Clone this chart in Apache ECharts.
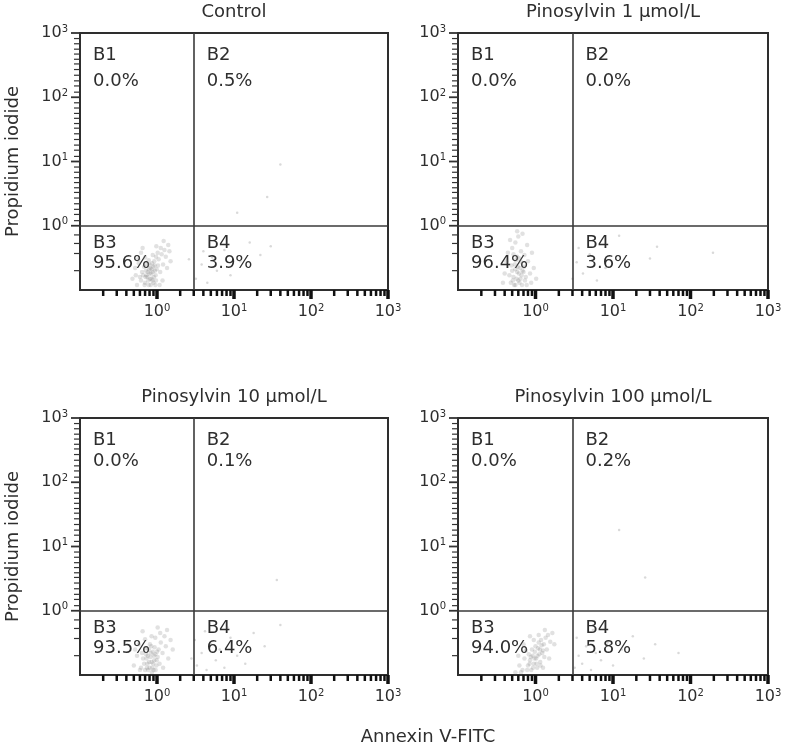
<!DOCTYPE html>
<html><head><meta charset="utf-8">
<script src="https://cdn.jsdelivr.net/npm/echarts@6/dist/echarts.min.js"></script>
<style>html,body{margin:0;padding:0;background:#fff}#c{width:785px;height:750px}</style>
</head><body><div id="c"></div><script>
// ---------------- data ----------------
const panelTitles = ['Control', 'Pinosylvin 1 μmol/L', 'Pinosylvin 10 μmol/L', 'Pinosylvin 100 μmol/L'];
const xAxisTitle = 'Annexin V-FITC';
const yAxisTitle = 'Propidium iodide';
const quadrantNames = ['B1', 'B2', 'B3', 'B4'];
const pctB1 = ['0.0%', '0.0%', '0.0%', '0.0%'];
const pctB2 = ['0.5%', '0.0%', '0.1%', '0.2%'];
const pctB3 = ['95.6%', '96.4%', '93.5%', '94.0%'];
const pctB4 = ['3.9%', '3.6%', '6.4%', '5.8%'];
const gateX = [3, 3, 3, 3];
const gateY = [1, 1, 1, 1];
const axisMin = 0.1, axisMax = 1000;
const majorTicks = [1, 10, 100, 1000];
const tickExponents = ['0', '1', '2', '3'];
const xMinorTicks = [0.2,0.3,0.4,0.5,0.6,0.7,0.8,0.9, 2,3,4,5,6,7,8,9, 20,30,40,50,60,70,80,90, 200,300,400,500,600,700,800,900];
const yMinorTicks = [0.2,0.37,0.53,0.72, 1.2,1.5,1.8,2.2,2.7,3.3,3.9,4.7,5.6,6.8,8.2, 12,15,18,22,27,33,39,47,56,68,82, 120,150,180,220,270,330,390,470,560,680,820];

const controlCloud = [[0.62,0.14],[0.66,0.17],[0.70,0.13],[0.72,0.20],[0.75,0.16],[0.78,0.12],[0.80,0.18],[0.82,0.22],[0.85,0.15],[0.88,0.19],[0.90,0.13],[0.93,0.24],[0.96,0.17],[0.99,0.21],[0.68,0.23],[0.74,0.25],[0.77,0.14],[0.83,0.12],[0.86,0.26],[0.91,0.16],[0.64,0.19],[0.71,0.16],[0.79,0.21],[0.84,0.18],[0.87,0.14],[0.94,0.20],[0.69,0.12],[0.76,0.19],[0.81,0.15],[0.89,0.23],[0.97,0.14],[0.73,0.17],[0.80,0.25],[0.92,0.28],[0.60,0.16],[0.85,0.21],[0.78,0.29],[0.95,0.12],
  [0.48,0.15],[0.52,0.22],[0.55,0.12],[0.57,0.30],[1.05,0.30],[1.10,0.19],[1.15,0.36],[1.20,0.25],[1.25,0.42],[1.30,0.33],[1.40,0.50],[1.12,0.45],[1.02,0.38],[0.97,0.33],[0.88,0.35],[0.70,0.32],[0.62,0.38],[1.35,0.22],[1.50,0.28],[1.18,0.14],[1.08,0.12],[0.65,0.45],[1.22,0.58],[0.98,0.48],[0.53,0.17],[1.45,0.40],[0.58,0.26],[1.03,0.24]];
const controlB4 = [[3.2,0.15],[3.8,0.25],[4.5,0.13],[5.2,0.32],[6.0,0.20],[7.5,0.42],[9.0,0.17],[12,0.28],[16,0.55],[22,0.35],[30,0.48],[4.0,0.40],[2.6,0.30]];
const controlB2 = [[11,1.6],[27,2.8],[40,9]];

const pino1Cloud = [[0.48,0.13],[0.52,0.16],[0.55,0.12],[0.58,0.19],[0.60,0.14],[0.63,0.22],[0.66,0.17],[0.50,0.20],[0.54,0.25],[0.57,0.15],[0.62,0.13],[0.65,0.27],[0.70,0.19],[0.73,0.14],[0.46,0.17],[0.53,0.12],[0.59,0.23],[0.67,0.12],[0.56,0.29],[0.61,0.18],[0.71,0.23],[0.75,0.16],[0.49,0.24],[0.64,0.15],[0.58,0.33],[0.51,0.14],[0.68,0.20],[0.77,0.12],[0.55,0.21],[0.62,0.31],
  [0.40,0.18],[0.42,0.28],[0.44,0.38],[0.50,0.45],[0.55,0.55],[0.60,0.68],[0.58,0.82],[0.65,0.40],[0.72,0.35],[0.80,0.28],[0.85,0.18],[0.90,0.38],[0.95,0.22],[1.02,0.15],[0.78,0.50],[0.47,0.60],[0.68,0.75],[0.38,0.13],[0.88,0.13],[0.52,0.36]];
const pino1B4 = [[3.4,0.27],[4.1,0.18],[6.2,0.14],[12,0.70],[30,0.31],[37,0.47],[195,0.38],[3.0,0.15],[5.0,0.36],[8.0,0.22],[3.6,0.45]];
const pino1B2 = [];

const pino10Cloud = [[0.62,0.13],[0.66,0.18],[0.70,0.12],[0.72,0.21],[0.75,0.15],[0.78,0.25],[0.80,0.13],[0.82,0.19],[0.85,0.16],[0.88,0.23],[0.90,0.12],[0.92,0.17],[0.95,0.21],[0.98,0.14],[1.02,0.19],[1.05,0.25],[0.68,0.15],[0.73,0.18],[0.77,0.12],[0.84,0.28],[0.87,0.13],[0.93,0.27],[0.99,0.17],[0.64,0.22],[0.71,0.26],[0.79,0.16],[0.83,0.22],[0.89,0.15],[0.96,0.12],[1.08,0.15],[0.74,0.13],[0.81,0.30],[0.91,0.20],[0.86,0.11],[1.00,0.23],[0.76,0.20],
  [0.50,0.14],[0.55,0.20],[0.58,0.30],[0.60,0.12],[1.12,0.32],[1.18,0.22],[1.25,0.40],[1.30,0.28],[1.40,0.18],[1.50,0.35],[1.10,0.45],[0.95,0.38],[0.85,0.40],[0.70,0.36],[1.60,0.25],[1.20,0.13],[0.65,0.48],[1.02,0.55],[0.52,0.25],[1.35,0.50]];
const pino10B4 = [[3.3,0.14],[3.8,0.22],[4.4,0.12],[5.0,0.30],[5.8,0.17],[6.5,0.25],[7.5,0.13],[9.0,0.38],[11,0.20],[14,0.15],[18,0.45],[25,0.28],[40,0.60],[4.2,0.48],[3.1,0.35],[8.2,0.55],[2.8,0.18]];
const pino10B2 = [[36,3.0]];

const pino100Cloud = [[0.80,0.14],[0.85,0.17],[0.88,0.12],[0.92,0.20],[0.95,0.15],[0.98,0.23],[1.02,0.18],[1.05,0.13],[1.08,0.26],[1.12,0.21],[1.15,0.16],[1.20,0.29],[1.25,0.24],[1.30,0.19],[0.90,0.25],[0.82,0.21],[1.00,0.28],[1.10,0.32],[1.18,0.35],[0.93,0.13],[1.03,0.15],[0.87,0.19],[1.14,0.25],[0.97,0.18],[1.22,0.22],[0.78,0.12],[1.06,0.20],[1.28,0.30],[0.84,0.15],[1.16,0.14],
  [0.55,0.11],[0.62,0.14],[0.68,0.12],[0.72,0.18],[0.75,0.24],[1.35,0.38],[1.45,0.42],[1.55,0.33],[1.65,0.45],[1.40,0.25],[1.50,0.18],[0.70,0.30],[0.95,0.35],[1.32,0.50],[1.10,0.42],[0.60,0.20],[1.75,0.30],[0.65,0.11],[1.25,0.13],[0.85,0.40]];
const pino100B4 = [[3.2,0.13],[3.6,0.20],[4.0,0.15],[4.5,0.28],[5.2,0.12],[6.0,0.22],[7.0,0.17],[8.5,0.32],[10,0.14],[13,0.25],[18,0.40],[25,0.18],[35,0.30],[3.4,0.38],[5.5,0.50],[70,0.22]];
const pino100B2 = [[12,18],[26,3.3]];

const panelClouds = [controlCloud, pino1Cloud, pino10Cloud, pino100Cloud];
const panelSparse = [
  controlB4.concat(controlB2),
  pino1B4.concat(pino1B2),
  pino10B4.concat(pino10B2),
  pino100B4.concat(pino100B2)
];

// ---------------- layout / style ----------------
const FONT = 'DejaVu Sans';
const TXT = '#2e2e2e';
const grids = [
  {left: 80, top: 33, width: 308, height: 257},
  {left: 458, top: 33, width: 310, height: 257},
  {left: 80, top: 418, width: 308, height: 257},
  {left: 458, top: 418, width: 310, height: 257}
];

function tickFmt(v) {
  const idx = majorTicks.findIndex(t => Math.abs(Math.log10(t) - Math.log10(v)) < 1e-6);
  if (idx < 0) return '';
  return '{b|10}{s|' + tickExponents[idx] + '}';
}
const tickRich = {
  b: {fontFamily: FONT, fontSize: 16, color: TXT, lineHeight: 18},
  s: {fontFamily: FONT, fontSize: 10, color: TXT, lineHeight: 10, verticalAlign: 'top'}
};

function tickSeries(i, dir) {
  const data = [];
  majorTicks.forEach(v => data.push(dir === 'x' ? [v, axisMin, 1] : [axisMin, v, 1]));
  (dir === 'x' ? xMinorTicks : yMinorTicks).forEach(v => data.push(dir === 'x' ? [v, axisMin, 0] : [axisMin, v, 0]));
  return {
    type: 'custom', xAxisIndex: i, yAxisIndex: i, clip: false, silent: true, z: 5, data,
    renderItem(params, api) {
      const p = api.coord([api.value(0), api.value(1)]);
      const major = api.value(2) === 1;
      if (dir === 'x') {
        const len = major ? 9 : 6;
        return {type: 'line', shape: {x1: p[0], y1: p[1], x2: p[0], y2: p[1] + len},
          style: {stroke: '#111', lineWidth: major ? 3.5 : 2.5}};
      }
      const len = major ? 9 : 6;
      return {type: 'line', shape: {x1: p[0] - len, y1: p[1], x2: p[0], y2: p[1]},
        style: {stroke: '#333', lineWidth: major ? 1.8 : 1.2}};
    }
  };
}

const option = {
  animation: false,
  backgroundColor: '#fff',
  grid: grids.map(g => Object.assign({show: true, borderColor: '#2e2e2e', borderWidth: 2, backgroundColor: 'transparent'}, g)),
  xAxis: grids.map((g, i) => ({
    type: 'log', logBase: 10, gridIndex: i, min: axisMin, max: axisMax,
    axisLine: {show: false}, axisTick: {show: false}, splitLine: {show: false},
    axisLabel: {margin: 13, formatter: tickFmt, rich: tickRich}
  })),
  yAxis: grids.map((g, i) => ({
    type: 'log', logBase: 10, gridIndex: i, min: axisMin, max: axisMax,
    axisLine: {show: false}, axisTick: {show: false}, splitLine: {show: false},
    axisLabel: {margin: 12, formatter: tickFmt, rich: tickRich}
  })),
  series: []
};

panelClouds.forEach((pts, i) => {
  option.series.push({
    type: 'scatter', xAxisIndex: i, yAxisIndex: i, data: pts,
    symbolSize: 4.5, silent: true,
    itemStyle: {color: 'rgba(120,120,120,0.28)'},
    markLine: {
      silent: true, symbol: ['none', 'none'], label: {show: false},
      lineStyle: {color: '#3a3a3a', width: 1.6, type: 'solid'},
      data: [{xAxis: gateX[i]}, {yAxis: gateY[i]}]
    }
  });
  option.series.push({
    type: 'scatter', xAxisIndex: i, yAxisIndex: i, data: panelSparse[i],
    symbolSize: 2.5, silent: true,
    itemStyle: {color: 'rgba(120,120,120,0.35)'}
  });
  option.series.push(tickSeries(i, 'x'));
  option.series.push(tickSeries(i, 'y'));
});

const chart = echarts.init(document.getElementById('c'), null, {renderer: 'canvas'});
chart.setOption(option);

// text overlays positioned relative to the gates
const graphics = [];
const txt = (x, y, text, extra) => Object.assign({
  type: 'text', x, y, silent: true,
  style: Object.assign({text, fill: TXT, font: '18px "' + FONT + '"', align: 'left', verticalAlign: 'middle'}, extra || {})
});
grids.forEach((g, i) => {
  const vx = chart.convertToPixel({xAxisIndex: i}, gateX[i]);
  const hy = chart.convertToPixel({yAxisIndex: i}, gateY[i]);
  const row2 = i >= 2;
  graphics.push(txt(g.left + g.width / 2, g.top - 21, panelTitles[i], {align: 'center'}));
  const secondTop = g.top + (row2 ? 43 : 48);
  graphics.push(txt(g.left + 13, g.top + 22, quadrantNames[0]));
  graphics.push(txt(g.left + 13, secondTop, pctB1[i]));
  graphics.push(txt(vx + 13, g.top + 22, quadrantNames[1]));
  graphics.push(txt(vx + 13, secondTop, pctB2[i]));
  graphics.push(txt(g.left + 13, hy + 18, quadrantNames[2]));
  graphics.push(txt(g.left + 13, hy + 38, pctB3[i]));
  graphics.push(txt(vx + 13, hy + 18, quadrantNames[3]));
  graphics.push(txt(vx + 13, hy + 38, pctB4[i]));
  if (i % 2 === 0) {
    const t = txt(13, g.top + g.height / 2, yAxisTitle, {align: 'center'});
    t.rotation = Math.PI / 2;
    graphics.push(t);
  }
});
graphics.push(txt(428, 737, xAxisTitle, {align: 'center'}));
chart.setOption({graphic: graphics});
</script></body></html>
